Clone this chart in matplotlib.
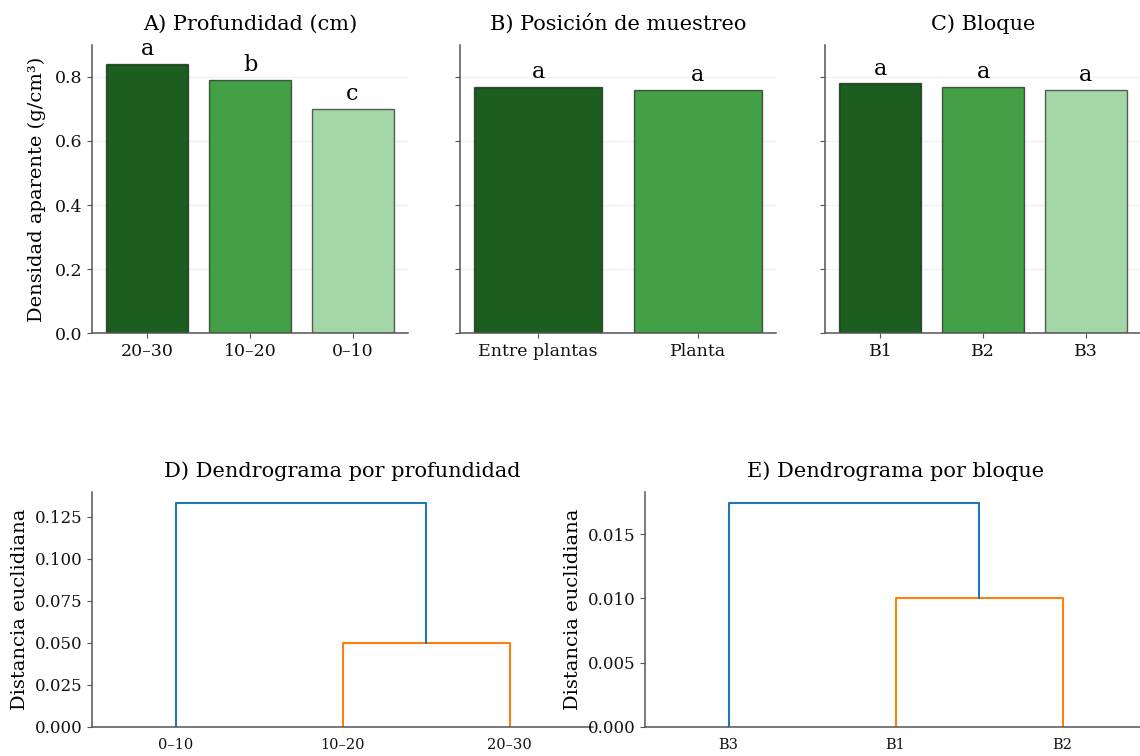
"""Densidad aparente por factor y dendrogramas de agrupamiento."""

import matplotlib

matplotlib.use("Agg")
import matplotlib.pyplot as plt
from matplotlib.ticker import MultipleLocator

plt.rcParams["font.family"] = ["DejaVu Serif"]

# --- datos ---
prof_cat = ["20–30", "10–20", "0–10"]
prof_val = [0.84, 0.79, 0.70]
prof_letras = ["a", "b", "c"]

pos_cat = ["Entre plantas", "Planta"]
pos_val = [0.77, 0.76]
pos_letras = ["a", "a"]

bloque_cat = ["B1", "B2", "B3"]
bloque_val = [0.78, 0.77, 0.76]
bloque_letras = ["a", "a", "a"]

# dendrogramas: orden de hojas, altura de la primera fusion (hojas 2 y 3)
# y altura de la fusion final (hoja 1 con el grupo)
dend_prof_hojas = ["0–10", "10–20", "20–30"]
dend_prof_alturas = [0.050, 0.133]

dend_bloque_hojas = ["B3", "B1", "B2"]
dend_bloque_alturas = [0.0100, 0.0174]

VERDES = ["#1b5e20", "#43a047", "#a5d6a7"]
SPINE = "#555555"


def _estilo(ax, tam=12):
    ax.spines["top"].set_visible(False)
    ax.spines["right"].set_visible(False)
    for s in ("left", "bottom"):
        ax.spines[s].set_color(SPINE)
        ax.spines[s].set_linewidth(1.1)
    ax.tick_params(colors=SPINE, labelcolor="#111111", labelsize=tam)


def barras(ax, cats, vals, letras, titulo):
    x = range(len(cats))
    ax.bar(x, vals, width=0.8, color=VERDES[: len(cats)],
           edgecolor=(0, 0, 0, 0.6), linewidth=1.0, zorder=2)
    for xi, v, l in zip(x, vals, letras):
        ax.text(xi, v + 0.012, l, ha="center", va="bottom", fontsize=16)
    ax.set_xticks(list(x))
    ax.set_xticklabels(cats)
    ax.set_ylim(0, 0.9)
    ax.set_yticks([0.0, 0.2, 0.4, 0.6, 0.8])
    ax.yaxis.grid(True, color="#e6e6e6", linewidth=1.0, alpha=0.6, zorder=0)
    ax.set_axisbelow(True)
    ax.set_title(titulo, fontsize=15, pad=11)
    _estilo(ax, 12.5)


def dendrograma(ax, hojas, alturas, titulo, paso):
    h1, h2 = alturas
    xs = [5 + 10 * i for i in range(len(hojas))]
    centro = (xs[1] + xs[2]) / 2
    ax.plot([xs[1], xs[1], xs[2], xs[2]], [0, h1, h1, 0],
            color="#ff7f0e", linewidth=1.5)
    ax.plot([xs[0], xs[0], centro, centro], [0, h2, h2, h1],
            color="#1f77b4", linewidth=1.5)
    ax.set_xlim(0, 10 * len(hojas))
    ax.set_ylim(0, h2 * 1.05)
    ax.yaxis.set_major_locator(MultipleLocator(paso))
    ax.set_xticks(xs)
    ax.set_xticklabels(hojas)
    ax.set_ylabel("Distancia euclidiana", fontsize=14)
    ax.set_title(titulo, fontsize=15, pad=11)
    _estilo(ax)
    ax.tick_params(axis="x", length=0, labelsize=10.5, pad=8)


fig = plt.figure(figsize=(11.4, 7.56), dpi=100)

ax_a = fig.add_axes([0.0807, 0.5595, 0.2772, 0.381])
ax_b = fig.add_axes([0.4035, 0.5595, 0.2772, 0.381], sharey=ax_a)
ax_c = fig.add_axes([0.7237, 0.5595, 0.2772, 0.381], sharey=ax_a)

barras(ax_a, prof_cat, prof_val, prof_letras, "A) Profundidad (cm)")
barras(ax_b, pos_cat, pos_val, pos_letras, "B) Posición de muestreo")
barras(ax_c, bloque_cat, bloque_val, bloque_letras, "C) Bloque")
ax_a.set_ylabel("Densidad aparente (g/cm³)", fontsize=14, labelpad=6)
ax_b.tick_params(axis="y", labelleft=False)
ax_c.tick_params(axis="y", labelleft=False)

ax_d = fig.add_axes([0.0807, 0.0384, 0.4395, 0.3108])
ax_e = fig.add_axes([0.5658, 0.0384, 0.4395, 0.3108])
dendrograma(ax_d, dend_prof_hojas, dend_prof_alturas,
            "D) Dendrograma por profundidad", 0.025)
dendrograma(ax_e, dend_bloque_hojas, dend_bloque_alturas,
            "E) Dendrograma por bloque", 0.005)

fig.savefig("out.png", dpi=100)
